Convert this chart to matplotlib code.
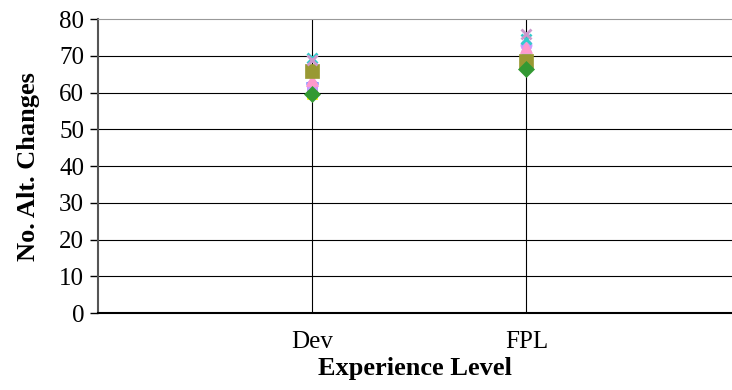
import matplotlib.pyplot as plt
import numpy as np

plt.rcParams['font.family'] = ['Liberation Serif', 'DejaVu Serif']

# categories and per-series values (Dev, FPL)
levels = ['Dev', 'FPL']
s_yellow = [59.5, 67.5]
s_magenta = [60.5, 68.0]
s_blue = [62.5, 70.0]
s_pink = [63.5, 72.5]
s_purple = [62.0, 73.0]
s_lightblue = [61.0, 71.0]
s_olive = [66.0, 68.5]
s_green = [59.5, 66.5]
s_cyan = [69.5, 74.5]
s_pinkx = [69.0, 76.0]

series = [
    (s_yellow, 's', '#ffff00', 7),
    (s_magenta, 's', '#ff00ff', 7),
    (s_lightblue, 'o', '#99ccff', 7),
    (s_blue, '_', '#3366ff', 9),
    (s_purple, 'o', '#cc99ff', 8),
    (s_pink, '^', '#ff99cc', 8),
    (s_olive, 's', '#999933', 10.5),
    (s_green, 'D', '#339933', 8),
    (s_cyan, 'x', '#33cccc', 7),
    (s_pinkx, 'x', '#cc99cc', 7),
]

fig = plt.figure(figsize=(7.32, 3.9), dpi=100)
ax = fig.add_axes([0.134, 0.197, 0.866, 0.754])

x = np.arange(1, len(levels) + 1)
for vals, mk, col, sz in series:
    ax.plot(x, vals, linestyle='none', marker=mk, color=col, markersize=sz,
            markeredgewidth=2 if mk in ('x', '_') else 0.5, zorder=3)

ax.set_xlim(0, 2.96)
ax.set_ylim(0, 80)
ax.set_yticks(range(0, 81, 10))
ax.set_xticks(x)
ax.set_xticklabels(levels)
ax.tick_params(axis='y', labelsize=18, length=6, width=1, pad=4)
ax.tick_params(axis='x', labelsize=18, length=0, pad=13)

for v in range(10, 80, 10):
    ax.axhline(v, color='black', linewidth=0.8, zorder=1)
for xi in x:
    ax.axvline(xi, color='black', linewidth=0.8, zorder=1)

ax.spines['top'].set_color('#999999')
ax.spines['right'].set_visible(False)
ax.spines['left'].set_color('#555555')
ax.spines['left'].set_linewidth(1.5)
ax.spines['bottom'].set_linewidth(1.5)

ax.set_ylabel('No. Alt. Changes', fontsize=19, fontweight='bold', labelpad=14)
ax.set_xlabel('Experience Level', fontsize=19, fontweight='bold', labelpad=3)

fig.savefig('out.png', dpi=100)
